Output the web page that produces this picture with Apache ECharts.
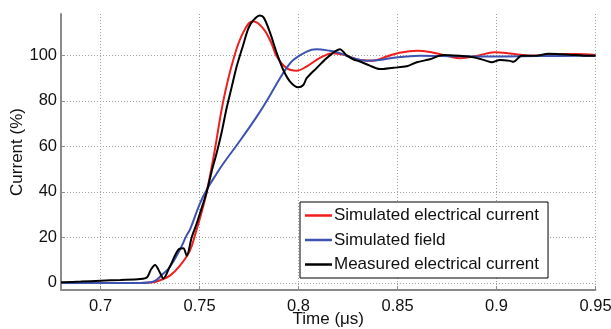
<!DOCTYPE html>
<html>
<head>
<meta charset="utf-8">
<script src="https://cdn.jsdelivr.net/npm/echarts@6/dist/echarts.min.js"></script>
<style>html,body{margin:0;padding:0;background:#fff}#c{width:611px;height:329px}</style>
</head>
<body>
<div id="c"></div>
<script>
// ---- data (time in µs, current in %) ----
const xTicks = [0.7, 0.75, 0.8, 0.85, 0.9, 0.95];
const yTicks = [0, 20, 40, 60, 80, 100];
const seriesNames = ['Simulated electrical current', 'Simulated field', 'Measured electrical current'];

const redT = [0.68, 0.70, 0.72, 0.7265, 0.73, 0.735, 0.74, 0.745, 0.748, 0.751, 0.7536, 0.757, 0.762, 0.767, 0.772, 0.777, 0.782, 0.786, 0.789, 0.794, 0.799, 0.804, 0.811, 0.8175, 0.824, 0.831, 0.8377, 0.8445, 0.851, 0.86, 0.868, 0.8765, 0.8815, 0.89, 0.899, 0.908, 0.9185, 0.9286, 0.94, 0.95];
const redV = [0, 0, 0, 0.3, 1.2, 3.2, 7.5, 14, 22, 31, 40, 55, 80, 98, 110, 115, 112, 106, 99.5, 94.4, 93.3, 95.1, 99, 101, 100, 98, 97.7, 99.5, 101.2, 102.1, 101.2, 99.5, 98.8, 99.8, 101.4, 100.7, 99.8, 100.5, 100.6, 100.2];

const blueT = [0.68, 0.72, 0.7265, 0.7315, 0.735, 0.740, 0.7435, 0.7452, 0.7502, 0.7536, 0.7586, 0.762, 0.7704, 0.7788, 0.7839, 0.7906, 0.794, 0.7973, 0.8041, 0.809, 0.8159, 0.8209, 0.8276, 0.8344, 0.8411, 0.8479, 0.8546, 0.8613, 0.88, 0.90, 0.92, 0.95];
const blueV = [0, 0, 0.5, 4, 7, 14.5, 21, 23.5, 35, 41, 48, 52.5, 62.5, 73, 80, 90, 94.5, 98, 101.7, 102.7, 102, 101, 98.8, 97.7, 98, 99, 99.5, 99.8, 99.6, 99.5, 99.7, 99.8];

const blackT = [0.68, 0.69, 0.70, 0.71, 0.72, 0.7235, 0.7255, 0.7275, 0.7300, 0.7317, 0.735, 0.7392, 0.7418, 0.7435, 0.746, 0.7485, 0.7502, 0.7536, 0.7561, 0.7586, 0.7611, 0.7637, 0.7662, 0.7687, 0.772, 0.7747, 0.7772, 0.7805, 0.7825, 0.7856, 0.789, 0.7923, 0.7957, 0.7998, 0.8024, 0.8041, 0.8091, 0.8142, 0.8209, 0.8243, 0.8276, 0.831, 0.836, 0.8411, 0.8479, 0.8546, 0.8597, 0.8664, 0.8731, 0.8815, 0.8883, 0.895, 0.8975, 0.9017, 0.9068, 0.9085, 0.9127, 0.92, 0.9261, 0.932, 0.937, 0.944, 0.95];
const blackV = [0.3, 0.6, 1.0, 1.3, 1.7, 2.5, 6, 7.9, 4.5, 2, 7.2, 14.5, 15.2, 12, 20, 26, 30.6, 40, 49, 57, 66, 77, 86, 95, 104.5, 112, 115.5, 117.5, 116.5, 110, 101, 93.6, 88.5, 86, 87, 90, 94.4, 98.8, 102.7, 100, 98.3, 97.3, 95.5, 94, 94.6, 95.2, 97, 98.3, 100.2, 99.8, 99.2, 97.6, 97, 98, 97.6, 97.2, 99.8, 99.8, 100.7, 100.5, 100.3, 99.9, 99.8];

const zip = (t, v) => t.map((x, i) => [x, v[i]]);
const FONT = 'Liberation Sans, Arial, sans-serif';

const chart = echarts.init(document.getElementById('c'), null, {renderer: 'canvas'});
chart.setOption({
  animation: false,
  backgroundColor: '#fff',
  grid: {left: 61, right: 15.5, top: 14, bottom: 39, containLabel: false, outerBoundsMode: 'none'},
  legend: {
    orient: 'vertical',
    left: 300, top: 202,
    data: seriesNames,
    icon: 'rect',
    backgroundColor: '#fff',
    borderColor: '#000',
    borderWidth: 1,
    borderRadius: 0,
    padding: [5, 9, 5, 5],
    itemWidth: 27, itemHeight: 2.5, itemGap: 7.5,
    textStyle: {fontFamily: FONT, fontSize: 17, color: '#111', lineHeight: 16, padding: [0, 0, 0, -3]}
  },
  xAxis: {
    type: 'value', min: 0.68, max: 0.95,
    name: 'Time (μs)', nameLocation: 'middle', nameGap: 21, nameMoveOverlap: false,
    nameTextStyle: {fontFamily: FONT, fontSize: 17, color: '#111'},
    axisLine: {show: true, onZero: false, lineStyle: {color: '#8a8a8a', width: 2}},
    axisTick: {show: true, inside: true, length: 4, customValues: xTicks, lineStyle: {color: '#8a8a8a'}},
    axisLabel: {customValues: xTicks, margin: 8, fontFamily: FONT, fontSize: 16.5, color: '#111',
      formatter: v => String(+(+v).toFixed(2))},
    splitLine: {show: true, lineStyle: {color: '#a0a0a0', width: 1, type: [1, 2]}}
  },
  yAxis: {
    type: 'value', min: -3.1, max: 118.2,
    name: 'Current (%)', nameLocation: 'middle', nameGap: 35, nameMoveOverlap: false,
    nameTextStyle: {fontFamily: FONT, fontSize: 17, color: '#111'},
    axisLine: {show: true, onZero: false, lineStyle: {color: '#8a8a8a', width: 2}},
    axisTick: {show: true, inside: true, length: 4, customValues: yTicks, lineStyle: {color: '#8a8a8a'}},
    axisLabel: {customValues: yTicks, margin: 4, fontFamily: FONT, fontSize: 16.5, color: '#111'},
    splitLine: {show: true, lineStyle: {color: '#a0a0a0', width: 1, type: [1, 2]}}
  },
  series: [
    {name: seriesNames[0], type: 'line', data: zip(redT, redV), symbol: 'none', smooth: 0.4,
      color: '#f01e1e', lineStyle: {width: 2, color: '#f01e1e'}},
    {name: seriesNames[1], type: 'line', data: zip(blueT, blueV), symbol: 'none', smooth: 0.4,
      color: '#3d53b0', lineStyle: {width: 2, color: '#3d53b0'}},
    {name: seriesNames[2], type: 'line', data: zip(blackT, blackV), symbol: 'none', smooth: 0.3,
      color: '#000', lineStyle: {width: 2, color: '#000'}}
  ]
});
</script>
</body>
</html>
